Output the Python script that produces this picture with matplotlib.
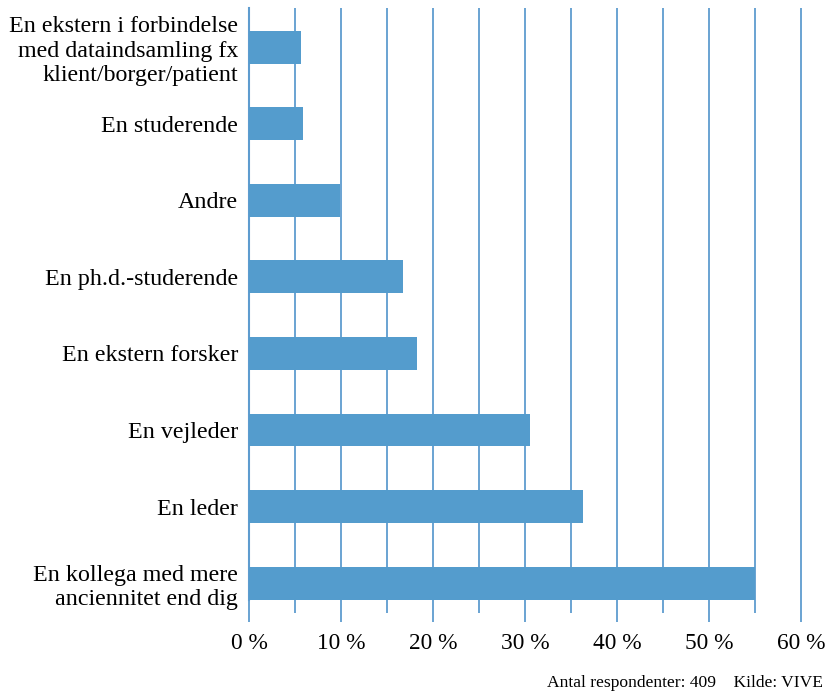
import matplotlib
matplotlib.use("Agg")
import matplotlib.pyplot as plt
from matplotlib.ticker import MultipleLocator, FuncFormatter

# data, top to bottom as in the chart
labels = [
    "En ekstern i forbindelse\nmed dataindsamling fx\nklient/borger/patient",
    "En studerende",
    "Andre",
    "En ph.d.-studerende",
    "En ekstern forsker",
    "En vejleder",
    "En leder",
    "En kollega med mere\nanciennitet end dig",
]
values = [5.7, 5.9, 9.9, 16.7, 18.3, 30.5, 36.3, 55.0]
footer = "Antal respondenter: 409    Kilde: VIVE"

bar_color = "#549CCD"
grid_color = "#5E9CCF"

plt.rcParams['font.family'] = ['Liberation Serif', 'DejaVu Serif']

fig = plt.figure(figsize=(8.27, 6.92), dpi=100)
ax = fig.add_axes([249 / 827, 1 - 600 / 692, 556.6 / 827, 592 / 692])

# reverse so the first label sits at the top
pos = list(range(len(labels)))[::-1]
ax.barh(pos, values, height=0.43, color=bar_color, zorder=3)

ax.set_xlim(0, 60.5)
ax.set_ylim(-0.22, 7.51)
ax.set_yticks(pos)
ax.set_yticklabels(labels, fontsize=17.3, linespacing=1.2)
ax.tick_params(axis='y', length=0, pad=8)

ax.xaxis.set_major_locator(MultipleLocator(10))
ax.xaxis.set_minor_locator(MultipleLocator(5))
ax.xaxis.set_major_formatter(FuncFormatter(lambda v, p: f"{int(v)} %"))
ax.tick_params(axis='x', which='major', length=16, width=1.3, color=grid_color,
               labelsize=16.8, pad=7.5)
ax.tick_params(axis='x', which='minor', length=9.5, width=1.3, color=grid_color)
ax.grid(axis='x', which='both', color=grid_color, linewidth=1.3, zorder=0)

for s in ['top', 'right', 'bottom']:
    ax.spines[s].set_visible(False)
ax.spines['left'].set_color(grid_color)
ax.spines['left'].set_linewidth(1.5)

fig.text(823 / 827, 1 - 683 / 692, footer, ha='right', va='center', fontsize=12.6)

fig.savefig("out.png", dpi=100)
